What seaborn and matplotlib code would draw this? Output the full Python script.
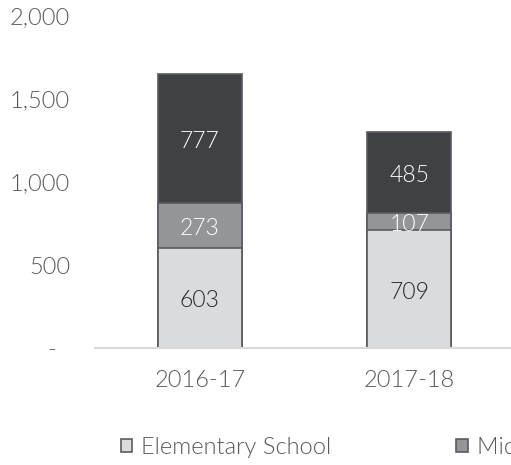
import numpy as np
import pandas as pd
import matplotlib.pyplot as plt
from matplotlib.patches import Patch
import seaborn as sns

# Data
years = ['2016-17', '2017-18']
elementary = [603, 709]
middle = [273, 107]
high = [777, 485]
series_names = ['Elementary School', 'Middle School', 'High School']
ytick_vals = [0, 500, 1000, 1500, 2000]
ytick_labels = ['-  ', '500', '1,000', '1,500', '2,000']

colors = ['#dadbdd', '#939598', '#404144']
edge = '#5a5b5e'
text_gray = '#595959'
fs = 17

sns.set_theme(style='white')
plt.rcParams['font.family'] = ['Lato', 'DejaVu Sans']
plt.rcParams['font.weight'] = 300

df = pd.DataFrame({'year': years, 'elem': elementary, 'mid': middle, 'high': high})
df['elem_mid'] = df['elem'] + df['mid']
df['total'] = df['elem_mid'] + df['high']

fig = plt.figure(figsize=(5.11, 4.65), dpi=100)
ax = fig.add_axes([95 / 511, (465 - 348) / 465, 419 / 511, 332 / 465])

# stacked bars drawn back to front
for col, c in zip(['total', 'elem_mid', 'elem'], colors[::-1]):
    sns.barplot(data=df, x='year', y=col, color=c, width=0.4, ax=ax,
                edgecolor=edge, linewidth=1.2, saturation=1)

# segment labels
for i in range(len(years)):
    bottoms = [0, df['elem'][i], df['elem_mid'][i]]
    vals = [df['elem'][i], df['mid'][i], df['high'][i]]
    for b, v, tc in zip(bottoms, vals, ['#262626', 'white', 'white']):
        ax.annotate(f'{v:,}', (i, b + v / 2), xytext=(0, -3),
                    textcoords='offset pixels', ha='center', va='center',
                    fontsize=16.5, color=tc, fontweight=300)

ax.set_xlim(-0.5, 1.5)
ax.set_ylim(0, 2000)
ax.set_yticks(ytick_vals)
ax.set_yticklabels(ytick_labels)
ax.set_xlabel('')
ax.set_ylabel('')
ax.tick_params(axis='y', length=0, pad=18, labelsize=fs, labelcolor=text_gray)
ax.tick_params(axis='x', length=0, pad=16, labelsize=fs, labelcolor=text_gray)
for lab in ax.get_xticklabels() + ax.get_yticklabels():
    lab.set_fontweight(300)
sns.despine(ax=ax, left=True)
ax.spines['bottom'].set_color('#d9d9d9')
ax.spines['bottom'].set_linewidth(1.5)

handles = [Patch(facecolor=c, edgecolor=edge, linewidth=1.2) for c in colors]
fig.legend(handles, series_names, loc='center left', ncol=3, frameon=False,
           bbox_to_anchor=(121 / 511, 1 - 447 / 465), borderpad=0,
           borderaxespad=0, handlelength=0.47, handleheight=0.47,
           handletextpad=0.38, columnspacing=5.3,
           prop={'size': fs, 'weight': 300}, labelcolor=text_gray)

fig.savefig('out.png', dpi=100)
